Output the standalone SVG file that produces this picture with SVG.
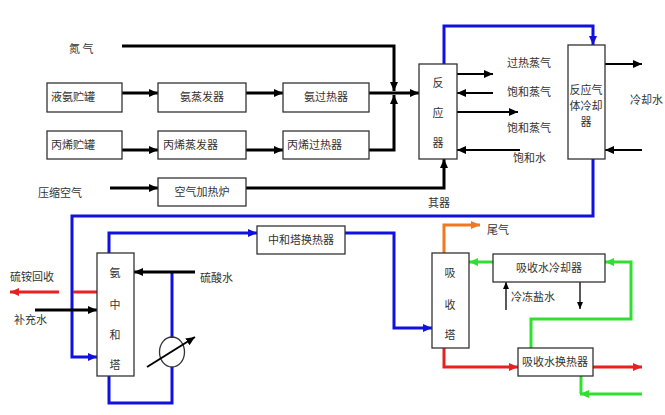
<svg xmlns="http://www.w3.org/2000/svg" width="665" height="415" viewBox="0 0 665 415">
<style>
text{font-family:"Noto Sans CJK SC","Liberation Sans",sans-serif;font-size:11px;fill:#333}
.c{text-anchor:middle}
rect{fill:#fff;stroke:#333;stroke-width:1.3}
.k{fill:none;stroke:#000;stroke-width:3}
.kt{fill:none;stroke:#000;stroke-width:2}
.kh{fill:none;stroke:#000;stroke-width:1.3}
.b{fill:none;stroke:#1010e0;stroke-width:3}
.r{fill:none;stroke:#e82020;stroke-width:3}
.g{fill:none;stroke:#30e030;stroke-width:3}
.o{fill:none;stroke:#f07820;stroke-width:3}
</style>
<defs>
<marker id="ak" markerUnits="userSpaceOnUse" markerWidth="10" markerHeight="10" refX="9" refY="5" orient="auto"><path d="M0,1 L9,5 L0,9z" fill="#000"/></marker>
<marker id="aks" markerUnits="userSpaceOnUse" markerWidth="8" markerHeight="8" refX="7" refY="4" orient="auto"><path d="M0,1 L7,4 L0,7z" fill="#000"/></marker>
<marker id="ab" markerUnits="userSpaceOnUse" markerWidth="10" markerHeight="10" refX="9" refY="5" orient="auto"><path d="M0,1 L9,5 L0,9z" fill="#1010e0"/></marker>
<marker id="ar" markerUnits="userSpaceOnUse" markerWidth="10" markerHeight="10" refX="9" refY="5" orient="auto"><path d="M0,1 L9,5 L0,9z" fill="#e82020"/></marker>
<marker id="ag" markerUnits="userSpaceOnUse" markerWidth="10" markerHeight="10" refX="9" refY="5" orient="auto"><path d="M0,1 L9,5 L0,9z" fill="#30e030"/></marker>
<marker id="ao" markerUnits="userSpaceOnUse" markerWidth="10" markerHeight="10" refX="9" refY="5" orient="auto"><path d="M0,1 L9,5 L0,9z" fill="#f07820"/></marker>
</defs>

<g id="connectors">
<path class="k" d="M122,46 H394 V91" marker-end="url(#ak)"/>
<path class="k" d="M122,93 H158" marker-end="url(#ak)"/>
<path class="k" d="M246,93 H283" marker-end="url(#ak)"/>
<path class="k" d="M369,93 H419" marker-end="url(#ak)"/>
<path class="k" d="M122,150 H158" marker-end="url(#ak)"/>
<path class="k" d="M246,150 H283" marker-end="url(#ak)"/>
<path class="k" d="M369,150 H394 V95" marker-end="url(#ak)"/>
<path class="k" d="M110,188 H158" marker-end="url(#ak)"/>
<path class="k" d="M246,188 H444 V159" marker-end="url(#ak)"/>
<path class="kt" d="M457,74 H493" marker-end="url(#ak)"/>
<path class="kt" d="M493,93 H457" marker-end="url(#ak)"/>
<path class="kt" d="M457,112 H518" marker-end="url(#ak)"/>
<path class="kt" d="M520,150 H457" marker-end="url(#ak)"/>
<path class="kt" d="M605,64 H642" marker-end="url(#ak)"/>
<path class="kt" d="M642,150 H605" marker-end="url(#ak)"/>
<path class="b" d="M444,64 V26 H593 V45" marker-end="url(#ab)"/>
<path class="b" d="M593,159 V216 H72 V357 H97" marker-end="url(#ab)"/>
<path class="b" d="M109,253 V233 H257" marker-end="url(#ab)"/>
<path class="b" d="M345,233 H394 V328 H432" marker-end="url(#ab)"/>
<path class="b" d="M172,272 V338"/>
<path class="b" d="M172,367 V403 H109 V376"/>
<ellipse cx="172" cy="352" rx="12.5" ry="15" fill="none" stroke="#333" stroke-width="1.3"/>
<path class="kt" d="M147,367 L195,337" marker-end="url(#ak)"/>
<path class="k" d="M195,272 H134" marker-end="url(#ak)"/>
<path class="r" d="M97,292 H73"/>
<path class="r" d="M59,292 H10" marker-end="url(#ar)"/>
<path class="k" d="M35,310 H97" marker-end="url(#ak)"/>
<path class="o" d="M444,253 V225 H480" marker-end="url(#ao)"/>
<path class="g" d="M493,262 H469" marker-end="url(#ag)"/>
<path class="g" d="M531,348 V319 H631 V262 H605" marker-end="url(#ag)"/>
<path class="kh" d="M506,310 V282" marker-end="url(#aks)"/>
<path class="kh" d="M580,282 V309" marker-end="url(#aks)"/>
<path class="r" d="M444,348 V367 H518" marker-end="url(#ar)"/>
<path class="r" d="M593,367 H642" marker-end="url(#ar)"/>
<path class="g" d="M581,376 V394"/>
<path class="g" d="M642,394 H580" marker-end="url(#ag)"/>
</g>

<g id="labels">
<text x="69" y="53">氮  气</text>
<text x="38" y="197">压缩空气</text>
<text x="507" y="67">过热蒸气</text>
<text x="507" y="96">饱和蒸气</text>
<text x="507" y="132">饱和蒸气</text>
<text x="513" y="162">饱和水</text>
<text x="630" y="104">冷却水</text>
<text x="428" y="207">其器</text>
<text x="200" y="282">硫酸水</text>
<text x="10" y="281">硫铵回收</text>
<text x="14" y="324">补充水</text>
<text x="487" y="234">尾气</text>
<text x="511" y="301">冷冻盐水</text>
</g>

<g id="n-ytank"><rect x="47" y="83" width="75" height="29"/><text x="51" y="101">液氨贮罐</text></g>
<g id="n-aevap"><rect x="158" y="83" width="88" height="29"/><text class="c" x="202" y="101">氨蒸发器</text></g>
<g id="n-aheat"><rect x="283" y="83" width="86" height="29"/><text class="c" x="326" y="101">氨过热器</text></g>
<g id="n-ptank"><rect x="47" y="131" width="75" height="28"/><text x="51" y="149">丙烯贮罐</text></g>
<g id="n-pevap"><rect x="158" y="131" width="88" height="28"/><text x="163" y="149">丙烯蒸发器</text></g>
<g id="n-pheat"><rect x="283" y="131" width="86" height="28"/><text x="287" y="149">丙烯过热器</text></g>
<g id="n-airheat"><rect x="158" y="178" width="88" height="28"/><text class="c" x="202" y="196">空气加热炉</text></g>
<g id="n-reactor"><rect x="419" y="64" width="38" height="95"/><text class="c" x="438" y="87">反</text><text class="c" x="438" y="117">应</text><text class="c" x="438" y="147">器</text></g>
<g id="n-cooler"><rect x="568" y="45" width="37" height="114"/><text class="c" x="586" y="94">反应气</text><text class="c" x="586" y="110">体冷却</text><text class="c" x="586" y="126">器</text></g>
<g id="n-neutral"><rect x="97" y="253" width="37" height="123"/><text class="c" x="115" y="277">氨</text><text class="c" x="115" y="309">中</text><text class="c" x="115" y="339">和</text><text class="c" x="115" y="369">塔</text></g>
<g id="n-nhx"><rect x="257" y="226" width="88" height="28"/><text class="c" x="301" y="244">中和塔换热器</text></g>
<g id="n-absorber"><rect x="432" y="253" width="37" height="95"/><text class="c" x="450" y="277">吸</text><text class="c" x="450" y="309">收</text><text class="c" x="450" y="339">塔</text></g>
<g id="n-abscool"><rect x="493" y="254" width="112" height="28"/><text class="c" x="549" y="272">吸收水冷却器</text></g>
<g id="n-abshx"><rect x="518" y="348" width="75" height="28"/><text class="c" x="555" y="366">吸收水换热器</text></g>
</svg>
